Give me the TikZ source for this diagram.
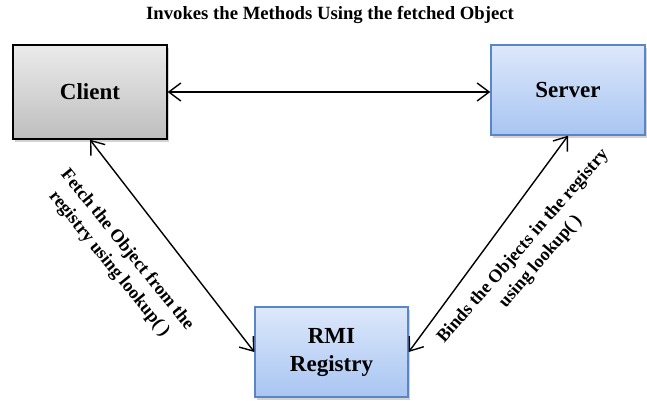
\documentclass[tikz,border=0pt]{standalone}
\usepackage{fontspec}
\setmainfont{Liberation Serif}
\usetikzlibrary{arrows.meta,shadows}
\definecolor{clienttop}{HTML}{EBEBEB}
\definecolor{clientbot}{HTML}{BEBEBE}
\definecolor{bluetop}{HTML}{DDE8FB}
\definecolor{bluebot}{HTML}{A8C5F2}
\definecolor{blueedge}{HTML}{5A86C8}
\tikzset{
  box/.style={minimum width=154pt, minimum height=92pt, inner sep=0pt, align=center,
    font=\fontsize{23}{28}\selectfont\bfseries, line width=1.4pt,
    drop shadow={opacity=0.35, shadow xshift=2pt, shadow yshift=-3pt}},
  graybox/.style={box, draw=black, top color=clienttop, bottom color=clientbot},
  bluebox/.style={box, draw=blueedge, top color=bluetop, bottom color=bluebot},
  link/.style={line width=1.4pt, {Straight Barb[length=12pt,width=18pt]}-{Straight Barb[length=12pt,width=18pt]}},
  lbl/.style={font=\fontsize{18.2}{23}\selectfont\bfseries, align=center, inner sep=0pt}
}
\begin{document}
\begin{tikzpicture}[x=1pt,y=-1pt]
  \useasboundingbox (0,0) rectangle (647,400);
  \node[lbl, font=\fontsize{18.7}{23}\selectfont\bfseries] (title) at (330,15) {Invokes the Methods Using the fetched Object};
  \node[graybox, minimum height=94pt] (client) at (90,92) {Client};
  \node[bluebox, minimum height=90pt] (server) at (568,90) {Server};
  \node[bluebox, minimum width=153pt, minimum height=90pt] (rmi) at (331.5,352) {RMI\\Registry};
  \draw[link] (client.east) -- (client.east -| server.west);
  \draw[link] (client.south) -- (rmi.west);
  \draw[link] (rmi.east) -- (server.south);
  \node[lbl, rotate=-51] (fetch) at (118,257) {Fetch the Object from the\\registry using lookup( )};
  \node[lbl, rotate=49] (binds) at (532,254) {Binds the Objects in the registry\\using lookup( )};
\end{tikzpicture}
\end{document}
